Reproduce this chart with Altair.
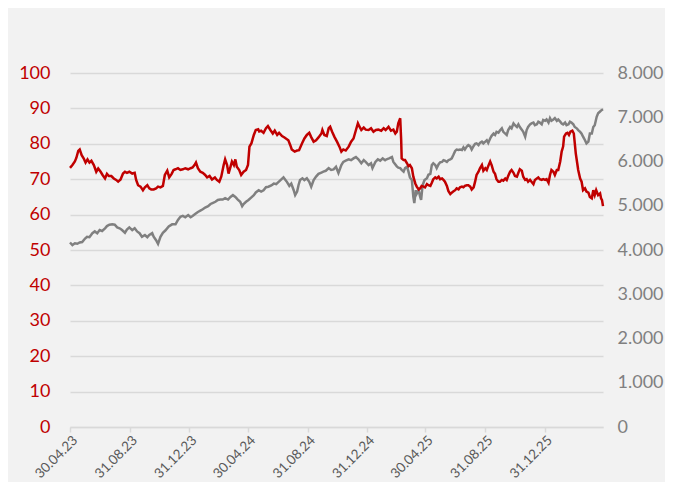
import altair as alt
import pandas as pd

# ---- data ----
START = "2023-04-30"

red_days = [0, 5, 10, 13, 17, 20, 24, 28, 32, 36, 40, 44, 49, 54, 58, 63, 67, 72, 76, 80, 85, 90, 95, 99, 104, 109, 113, 117, 122, 128, 133, 136, 140, 145, 150, 154, 159, 163, 167, 172, 177, 181, 186, 191, 195, 200, 204, 209, 213,
            217, 222, 227, 232, 237, 243, 248, 252, 256, 259, 263, 268, 273, 278, 282, 287, 292, 298, 302, 307, 311, 316, 319, 323, 326, 330, 333, 337, 340, 343, 348, 352, 357, 362, 366, 369, 373, 378, 382, 387, 389, 393, 398, 403, 407, 412, 417, 421, 426, 430, 436, 441,
            449, 453, 456, 462, 467, 471, 477, 482, 487, 492, 496, 501, 506, 511, 517, 519, 523, 528, 532, 535, 539, 544, 549, 554, 558, 562, 567, 573, 578, 583, 588, 592, 595, 599, 604, 608, 614, 619, 624, 629, 634, 640, 645, 649, 655, 660, 665,
            669, 672, 675, 679, 681, 682, 686, 689, 693, 696, 699, 703, 706, 710, 713, 717, 720, 723, 727, 730, 734, 737, 741, 744, 747, 751, 754, 758, 761, 765, 768, 771, 775, 778, 782, 785, 788, 792, 795, 799, 802, 806, 809, 812, 816, 819, 823, 826, 830, 833, 836, 840, 843, 847, 850, 854, 857, 860, 864, 867, 871, 874, 877, 881, 884, 888, 891,
            895, 898, 901, 905, 908, 912, 915, 919, 922, 925, 929, 932, 936, 939, 942, 946, 949, 953, 956, 960, 963, 966, 970, 973, 977, 980, 984, 987, 990, 994, 997, 1001, 1004, 1008, 1011, 1014, 1016, 1020, 1023, 1026, 1029, 1033, 1036, 1038, 1040, 1043, 1045, 1049, 1052, 1055, 1059, 1062, 1066, 1069, 1073, 1076, 1079, 1082, 1086, 1090, 1092, 1094, 1096]
red_vals = [73.2, 74, 75, 76, 78, 78.4, 76.8, 75.9, 74.7, 75.6, 74.7, 75.2, 74, 72.1, 73, 72.1, 71.2, 70.2, 71.5, 70.9, 70.9, 70.2, 69.8, 69.3, 69.9, 71.6, 72.1, 71.8, 72.1, 71.6, 71.8, 69.8, 68.3, 67.9, 66.9, 67.7, 68.3, 67.4, 67.1, 67.1, 67.4, 67.9, 67.7, 68.1, 71.2, 72.4, 70.5, 71.5, 72.6,
            72.8, 73.1, 72.6, 72.8, 73.1, 72.8, 73.1, 73.3, 74, 74.7, 73.1, 72.1, 71.8, 71.2, 70.5, 70.9, 69.9, 70.5, 69.8, 69.3, 70.7, 74, 75.6, 74, 71.6, 73.5, 75, 74, 75.6, 73.5, 72.6, 71.2, 72.1, 72.6, 74, 79.2, 80.1, 82.5, 83.9, 84.1, 83.5, 83.7, 83.1, 84.4, 85, 83.9, 82.9, 83.7, 82.5, 83.1, 82.2, 81.8,
            81, 79.6, 78.4, 77.8, 78.1, 78.2, 80.1, 81.5, 82.5, 83.1, 81.9, 80.6, 81, 81.8, 82.9, 83.9, 82.5, 82.2, 84.4, 84.8, 83.4, 81.9, 80.6, 79.2, 77.8, 78.4, 78.1, 79.2, 80.6, 81.5, 83.9, 85.8, 84.9, 83.9, 84.6, 84, 83.9, 84.4, 83.4, 83.9, 84, 83.7, 84.4, 83.9, 84.8, 83.7, 84,
            82.9, 83.4, 85.8, 87.2, 81, 75.9, 75.4, 75.4, 74.5, 73.7, 74, 73.1, 70.7, 68.8, 67.9, 67.1, 67.4, 68.1, 67.9, 67.7, 68.6, 68.3, 68.1, 69, 70, 70.5, 70.2, 70.7, 70, 70.2, 69.8, 69.3, 68.1, 66.7, 65.8, 66.2, 66.5, 66.9, 67.4, 67.1, 67.7, 67.9, 67.7, 68.1, 68.3, 68.3, 67.9, 67.1, 67.7, 69.3, 71.2, 72.1, 73.1, 74, 72.4, 73.1, 72.6, 73.7, 75, 74, 72.1, 71.5, 70, 69.3, 69.3, 69.8, 69.6,
            70.2, 69.8, 70.9, 72.1, 72.6, 71.8, 70.9, 70.7, 71.8, 72.8, 72.4, 70.7, 69.8, 70, 69.3, 69.8, 69.3, 68.6, 69.8, 70.2, 70.5, 70, 69.8, 70, 69.8, 70, 69, 71.2, 72.6, 72.1, 71.2, 72.6, 72.6, 75, 77.8, 79.2, 82, 82.9, 83.1, 82.5, 83.4, 83.7, 82.9, 80.1, 77.3, 74.5, 72.6, 70.2, 69.3, 66.9, 67.4, 66.5, 66.2, 65, 64.6, 66.9, 65.5, 66.9, 65.5, 66, 64.6, 64.1, 62.4]

grey_days = [0, 5, 10, 15, 20, 25, 31, 35, 40, 46, 51, 56, 61, 66, 72, 76, 81, 87, 92, 97, 102, 107, 113, 117, 122, 128, 133, 138, 143, 148, 154, 159, 163, 169, 172, 177, 181, 186, 191, 196, 203, 210,
             217, 222, 227, 232, 237, 243, 248, 252, 258, 263, 268, 273, 278, 284, 289, 293, 299, 304, 309, 314, 319, 325, 330, 335, 340, 345, 350, 354, 357, 362, 367, 373, 378, 382, 388, 393, 398, 403, 408, 414, 419, 424, 429, 434, 439,
             446, 451, 455, 460, 463, 467, 470, 473, 478, 482, 487, 492, 496, 501, 506, 511, 517, 521, 526, 532, 537, 542, 547, 552, 558, 562, 567, 573, 578, 583, 588, 593, 599, 604, 608, 614, 619, 622, 628, 633, 638, 643, 648, 651, 656, 662, 665,
             672, 675, 679, 682, 686, 689, 693, 696, 699, 703, 706, 708, 711, 713, 717, 720, 722, 725, 729, 734, 737, 741, 744, 747, 751, 754, 758, 761, 765, 768, 771, 775, 778, 782, 785, 788, 792, 795, 799, 802, 806, 809, 812, 816, 819, 823, 826, 830, 833, 836, 840, 843, 847, 850, 854, 857, 860, 864, 867, 871, 874, 877, 881, 884, 888, 891,
             895, 898, 901, 905, 908, 912, 915, 919, 922, 925, 929, 932, 936, 939, 942, 946, 949, 953, 956, 960, 963, 966, 970, 973, 977, 980, 984, 987, 990, 994, 997, 1001, 1004, 1008, 1011, 1014, 1018, 1021, 1025, 1028, 1031, 1035, 1038, 1042, 1045, 1049, 1052, 1055, 1059, 1062, 1066, 1069, 1073, 1076, 1079, 1083, 1086, 1090, 1093, 1096]
grey_vals = [4170, 4110, 4150, 4140, 4170, 4180, 4260, 4300, 4290, 4380, 4420, 4380, 4450, 4430, 4490, 4540, 4570, 4580, 4570, 4510, 4490, 4450, 4390, 4460, 4510, 4450, 4490, 4420, 4380, 4300, 4340, 4290, 4340, 4380, 4300, 4220, 4140, 4300, 4390, 4440, 4530, 4580,
             4580, 4680, 4750, 4770, 4740, 4790, 4740, 4770, 4820, 4860, 4890, 4920, 4960, 4990, 5040, 5060, 5090, 5130, 5140, 5140, 5170, 5140, 5200, 5240, 5200, 5140, 5090, 4990, 5040, 5090, 5130, 5190, 5240, 5300, 5350, 5320, 5350, 5420, 5430, 5460, 5500, 5490, 5540, 5590, 5640,
             5540, 5450, 5500, 5350, 5240, 5320, 5470, 5580, 5620, 5580, 5620, 5540, 5430, 5580, 5660, 5720, 5750, 5770, 5790, 5850, 5810, 5820, 5880, 5740, 5920, 5990, 6020, 6050, 6030, 6070, 6100, 6050, 5960, 6030, 5990, 5920, 5960, 5850, 5990, 6050, 6020, 6070, 6030, 6050, 6070, 6100, 5990,
             5890, 5860, 5850, 5810, 5770, 5850, 5880, 5770, 5640, 5580, 5200, 5060, 5350, 5270, 5350, 5200, 5130, 5460, 5580, 5620, 5700, 5720, 5920, 5960, 5920, 5850, 5940, 5980, 5990, 6030, 6020, 5990, 6030, 6050, 6070, 6140, 6240, 6270, 6260, 6270, 6260, 6320, 6270, 6340, 6370, 6340, 6270, 6350, 6400, 6410, 6370, 6420, 6450, 6410, 6450, 6480, 6420, 6520, 6580, 6630, 6600, 6670, 6650, 6700, 6750, 6670,
             6630, 6600, 6710, 6780, 6750, 6860, 6820, 6780, 6840, 6780, 6720, 6670, 6560, 6710, 6780, 6840, 6860, 6880, 6820, 6840, 6900, 6880, 6840, 6940, 6920, 6950, 6880, 6980, 6920, 6950, 6980, 6920, 6950, 6900, 6860, 6840, 6880, 6820, 6840, 6900, 6880, 6840, 6780, 6750, 6710, 6670, 6630, 6560, 6480, 6410, 6450, 6630, 6630, 6780, 6820, 7010, 7090, 7130, 7160, 7180]

tick_dates = [(2023, 4, 30), (2023, 8, 31), (2023, 12, 31), (2024, 4, 30), (2024, 8, 31),
              (2024, 12, 31), (2025, 4, 30), (2025, 8, 31), (2025, 12, 31)]
x_domain = [(2023, 4, 30), (2026, 4, 30)]

left_ticks = list(range(0, 101, 10))
right_ticks = list(range(0, 8001, 1000))

RED = "#C00000"
GREY = "#808080"
FONT = "Lato"


def to_dates(days):
    d = pd.Timestamp(START) + pd.to_timedelta(days, unit="D")
    return [x.strftime("%Y-%m-%d") for x in d]


red_df = pd.DataFrame({"date": to_dates(red_days), "v": red_vals})
grey_df = pd.DataFrame({"date": to_dates(grey_days), "v": grey_vals})


def dt(t):
    return alt.DateTime(year=t[0], month=t[1], date=t[2], utc=True)


x_enc = alt.X(
    "date:T",
    scale=alt.Scale(type="utc", domain=[dt(t) for t in x_domain], nice=False),
    axis=alt.Axis(
        title=None,
        values=[dt(t) for t in tick_dates],
        labelExpr="utcFormat(datum.value, '%d.%m.%y')",
        labelAngle=-45,
        labelAlign="right",
        labelBaseline="top",
        labelPadding=1,
        labelFont=FONT,
        labelFontSize=13.5,
        labelColor="#595959",
        domainColor="#D9D9D9",
        domainWidth=1.5,
        tickColor="#D9D9D9",
        tickWidth=1.5,
        tickSize=5,
        grid=False,
        labelOverlap=False,
        labelBound=False,
    ),
)

red = alt.Chart(red_df).mark_line(color=RED, strokeWidth=2.5).encode(
    x=x_enc,
    y=alt.Y(
        "v:Q",
        scale=alt.Scale(domain=[0, 100], nice=False, zero=False),
        axis=alt.Axis(
            orient="left",
            title=None,
            values=left_ticks,
            grid=True,
            gridColor="#D9D9D9",
            gridWidth=1.5,
            domain=False,
            ticks=False,
            labelColor=RED,
            labelFont=FONT,
            labelFontSize=18,
            labelPadding=20,
        ),
    ),
)

grey = alt.Chart(grey_df).mark_line(color=GREY, strokeWidth=2.5).encode(
    x=x_enc,
    y=alt.Y(
        "v:Q",
        scale=alt.Scale(domain=[0, 8000], nice=False, zero=False),
        axis=alt.Axis(
            orient="right",
            title=None,
            values=right_ticks,
            grid=False,
            domain=False,
            ticks=False,
            labelColor=GREY,
            labelFont=FONT,
            labelFontSize=18,
            labelPadding=14,
            labelExpr="replace(format(datum.value, ',.0f'), ',', '.')",
        ),
    ),
)

chart = (
    alt.layer(grey, red)
    .resolve_scale(y="independent")
    .properties(
        width=533,
        height=354,
        padding={"left": 62, "top": 65, "right": 62, "bottom": 55},
        autosize=alt.AutoSizeParams(type="none"),
        background="#F2F2F2",
    )
    .configure_view(stroke=None)
)

chart.save("out.html", embed_options={"renderer": "svg", "actions": False})
